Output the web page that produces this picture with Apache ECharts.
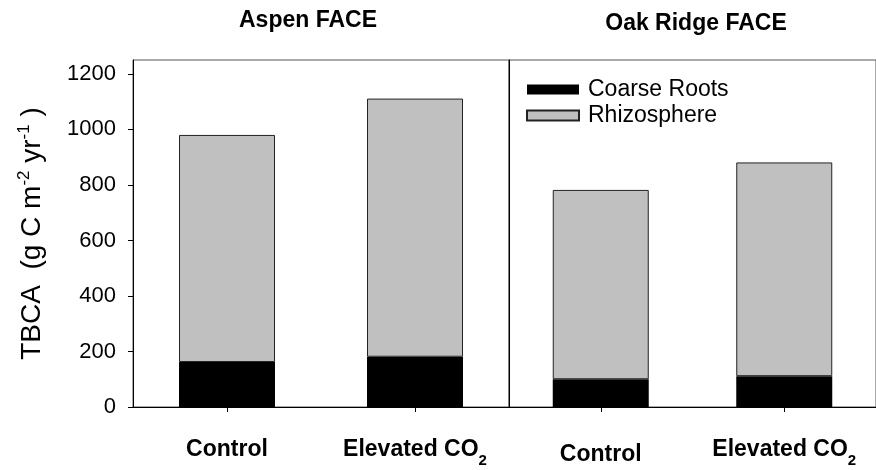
<!DOCTYPE html>
<html><head><meta charset="utf-8">
<script src="https://cdn.jsdelivr.net/npm/echarts@6/dist/echarts.min.js"></script>
<style>html,body{margin:0;padding:0;background:#fff}#c{width:876px;height:470px}</style>
</head><body><div id="c"></div>
<script>
const categories = ['Control', 'Elevated CO2'];
const siteTitles = ['Aspen FACE', 'Oak Ridge FACE'];
const aspenCoarse = [162, 181];
const aspenRhizo = [818, 930];
const oakCoarse = [100, 111];
const oakRhizo = [682, 770];
const yTicks = [0, 200, 400, 600, 800, 1000, 1200];
const seriesNames = ['Coarse Roots', 'Rhizosphere'];

const FONT = '"Liberation Sans", Arial, sans-serif';
const chart = echarts.init(document.getElementById('c'), null, {renderer: 'canvas'});

function xLabelFmt(panel) {
  return function (v) {
    if (v === 'Elevated CO2') return '{b|Elevated CO}{s|2}';
    return panel === 1 ? '{low|' + v + '}' : '{b|' + v + '}';
  };
}
const xRich = {
  b: {fontFamily: FONT, fontWeight: 'bold', fontSize: 23, color: '#000', lineHeight: 28},
  low: {fontFamily: FONT, fontWeight: 'bold', fontSize: 23, color: '#000', lineHeight: 28, padding: [10, 0, 0, 0]},
  s: {fontFamily: FONT, fontWeight: 'bold', fontSize: 15, color: '#000', lineHeight: 15, padding: [17, 0, 0, 0], verticalAlign: 'top'}
};

function xAxisDef(idx) {
  return {
    type: 'category', gridIndex: idx, data: categories,
    axisLine: {show: true, lineStyle: {color: '#000', width: 1}},
    axisTick: {show: true, alignWithLabel: true, length: 5, lineStyle: {color: '#000'}},
    axisLabel: {margin: 29, formatter: xLabelFmt(idx), rich: xRich}
  };
}
function yAxisDef(idx) {
  return {
    type: 'value', gridIndex: idx, min: 0, max: 1250,
    splitLine: {show: false},
    axisLine: {show: true, lineStyle: {color: '#000', width: 1}},
    axisTick: {show: idx === 0, length: 5, lineStyle: {color: '#000'}, customValues: yTicks},
    axisLabel: {show: idx === 0, customValues: yTicks, margin: 17, fontFamily: FONT, fontSize: 22, color: '#000',
      formatter: function (v) { return String(v); }},
    name: idx === 0 ? '{n|TBCA  (g C m}{p|-2}{n| yr}{p|-1}{n| )}' : '',
    nameLocation: 'middle', nameRotate: 90, nameGap: 85,
    nameTextStyle: {rich: {
      n: {fontFamily: FONT, fontSize: 28, color: '#000', lineHeight: 32},
      p: {fontFamily: FONT, fontSize: 17, color: '#000', lineHeight: 17, verticalAlign: 'top', padding: [0, 0, 15, 0]}
    }}
  };
}
function coarse(name, data, idx) {
  return {name: name, type: 'bar', stack: 's' + idx, xAxisIndex: idx, yAxisIndex: idx, data: data,
    barWidth: 96, itemStyle: {color: '#000', borderWidth: 0}};
}
function rhizo(name, data, idx) {
  return {name: name, type: 'bar', stack: 's' + idx, xAxisIndex: idx, yAxisIndex: idx, data: data,
    barWidth: 96, itemStyle: {color: '#c0c0c0', borderColor: '#222', borderWidth: 1}};
}

chart.setOption({
  animation: false,
  backgroundColor: '#fff',
  grid: [
    {left: 133, top: 60, width: 376, bottom: 63, show: true, borderColor: '#555', borderWidth: 1},
    {left: 509, top: 60, width: 376, bottom: 63, show: true, borderColor: '#555', borderWidth: 1}
  ],
  xAxis: [xAxisDef(0), xAxisDef(1)],
  yAxis: [yAxisDef(0), yAxisDef(1)],
  legend: {
    orient: 'vertical', left: 521, top: 73, itemWidth: 52, itemHeight: 10, itemGap: 3,
    icon: 'rect', data: seriesNames,
    textStyle: {fontFamily: FONT, fontSize: 23, color: '#000', padding: [0, 0, 0, 4]}
  },
  graphic: [
    {type: 'text', x: 308, y: 21, style: {text: siteTitles[0], align: 'center', verticalAlign: 'middle', font: 'bold 23px ' + FONT, fill: '#000'}},
    {type: 'text', x: 696, y: 24, style: {text: siteTitles[1], align: 'center', verticalAlign: 'middle', font: 'bold 23px ' + FONT, fill: '#000'}}
  ],
  series: [
    coarse(seriesNames[0], aspenCoarse, 0),
    rhizo(seriesNames[1], aspenRhizo, 0),
    coarse(seriesNames[0], oakCoarse, 1),
    rhizo(seriesNames[1], oakRhizo, 1)
  ]
});
</script></body></html>
